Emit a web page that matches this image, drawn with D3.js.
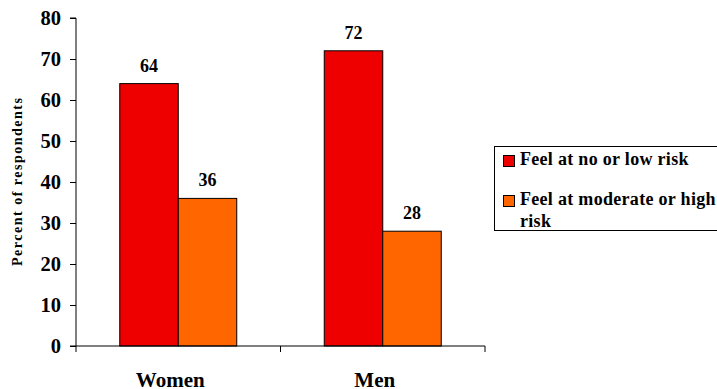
<!DOCTYPE html>
<html>
<head>
<meta charset="utf-8">
<script src="https://cdn.jsdelivr.net/npm/d3@7"></script>
<style>
  html, body { margin: 0; padding: 0; background: #fff; }
  svg { display: block; }
</style>
</head>
<body>
<svg id="chart" width="717" height="389"></svg>
<script>
// Survey: perceived risk by gender (percent of respondents)
const categories = ["Women", "Men"];
const seriesNames = ["Feel at no or low risk", "Feel at moderate or high risk"];
const lowRisk = [64, 72];
const highRisk = [36, 28];
const yTicks = [0, 10, 20, 30, 40, 50, 60, 70, 80];
const colors = ["#EE0000", "#FF6600"];

const FONT = "'Liberation Serif', 'Times New Roman', serif";
const seriesValues = [lowRisk, highRisk];
const svg = d3.select("#chart");

const plot = { left: 76, right: 485, top: 18, bottom: 346 };

const x0 = d3.scaleBand().domain(categories).range([plot.left, plot.right]).padding(0);
const x1 = d3.scaleBand().domain(d3.range(seriesNames.length))
  .range([0, x0.bandwidth()]).paddingInner(0).paddingOuter(0.748);
const y = d3.scaleLinear().domain([0, 80]).range([plot.bottom, plot.top]);

function serif(sel, size) {
  return sel.style("font-family", FONT)
    .style("font-weight", "bold")
    .style("font-size", size + "px")
    .attr("fill", "#000");
}

// Bars
const groups = svg.append("g").selectAll("g")
  .data(categories)
  .join("g")
  .attr("transform", d => `translate(${x0(d)},0)`);

const cells = (c, ci) => seriesValues.map((vals, si) => ({ si, v: vals[ci] }));

groups.selectAll("rect")
  .data(cells)
  .join("rect")
  .attr("x", d => x1(d.si))
  .attr("y", d => y(d.v))
  .attr("width", x1.bandwidth())
  .attr("height", d => y(0) - y(d.v))
  .attr("fill", d => colors[d.si])
  .attr("stroke", "#000")
  .attr("stroke-width", 1);

// Value labels
groups.selectAll("text")
  .data(cells)
  .join("text")
  .attr("x", d => x1(d.si) + x1.bandwidth() / 2)
  .attr("y", d => y(d.v) - 12)
  .attr("text-anchor", "middle")
  .call(serif, 18)
  .text(d => d.v);

// Y axis
const yAxis = svg.append("g")
  .attr("transform", `translate(${plot.left},0)`)
  .call(d3.axisLeft(y).tickValues(yTicks).tickSize(6).tickPadding(9));
yAxis.select(".domain").attr("stroke", "#000").attr("d", `M-6,${plot.top}H0V${plot.bottom}`);
yAxis.selectAll(".tick line").attr("stroke", "#000");
yAxis.selectAll(".tick text").call(serif, 20.5);

// X axis
const xAxis = svg.append("g")
  .attr("transform", `translate(0,${plot.bottom})`);
xAxis.append("line")
  .attr("x1", plot.left - 6).attr("x2", plot.right)
  .attr("y1", 0).attr("y2", 0)
  .attr("stroke", "#000");
xAxis.selectAll("line.tick")
  .data([plot.left].concat(categories.map(c => x0(c) + x0.bandwidth())))
  .join("line")
  .attr("class", "tick")
  .attr("x1", d => d).attr("x2", d => d)
  .attr("y1", 0).attr("y2", 6)
  .attr("stroke", "#000");
xAxis.selectAll("text")
  .data(categories)
  .join("text")
  .attr("x", d => x0(d) + x0.bandwidth() / 2)
  .attr("dx", -8)
  .attr("y", 41)
  .attr("text-anchor", "middle")
  .call(serif, 21)
  .text(d => d);

// Y axis title
svg.append("text")
  .attr("transform", `translate(22,${(plot.top + plot.bottom) / 2}) rotate(-90)`)
  .attr("text-anchor", "middle")
  .call(serif, 14)
  .attr("textLength", 168)
  .attr("lengthAdjust", "spacing")
  .text("Percent of respondents");

// Legend
const legend = svg.append("g");
legend.append("rect")
  .attr("x", 494.5).attr("y", 146.5)
  .attr("width", 240).attr("height", 84)
  .attr("fill", "#fff")
  .attr("stroke", "#000");

const legendLines = [["Feel at no or low risk"], ["Feel at moderate or high", "risk"]];
const legendRows = legend.selectAll("g.item")
  .data(seriesNames)
  .join("g")
  .attr("class", "item")
  .attr("transform", (d, i) => `translate(0,${i * 40})`);
legendRows.append("rect")
  .attr("x", 503.5).attr("y", 155.5)
  .attr("width", 11).attr("height", 11)
  .attr("fill", (d, i) => colors[i])
  .attr("stroke", "#000");
legendRows.each(function (d, i) {
  const t = d3.select(this).append("text")
    .call(serif, 18)
    .style("letter-spacing", "0.3px");
  legendLines[i].forEach((line, li) => {
    t.append("tspan")
      .attr("x", 520)
      .attr("y", 165 + li * 22)
      .text(line);
  });
});
</script>
</body>
</html>
